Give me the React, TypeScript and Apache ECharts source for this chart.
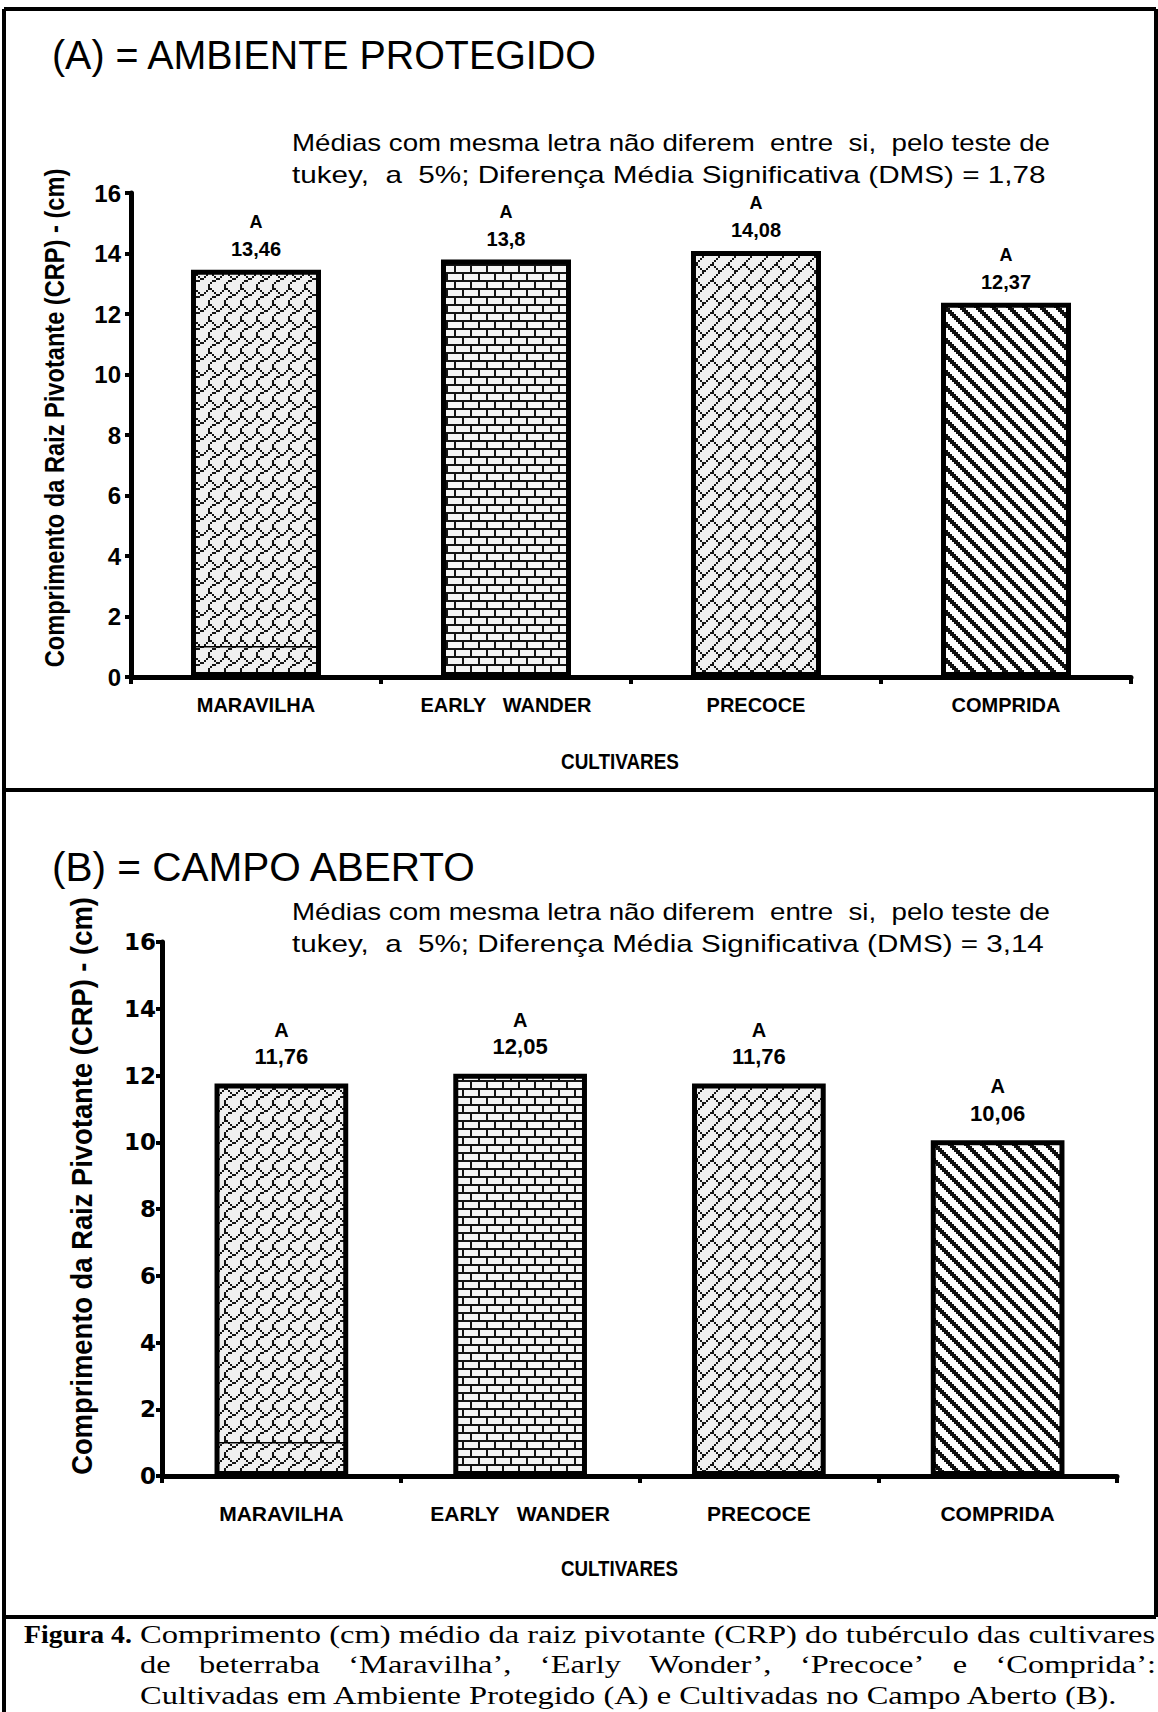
import React, { useEffect, useRef } from 'react';
import * as echarts from 'echarts';

// ---------- data ----------
const categories = ['MARAVILHA', 'EARLY   WANDER', 'PRECOCE', 'COMPRIDA'];
const valuesA = [13.46, 13.8, 14.08, 12.37];
const valuesB = [11.76, 12.05, 11.76, 10.06];
const lettersA = ['A', 'A', 'A', 'A'];
const lettersB = ['A', 'A', 'A', 'A'];
const yMin = 0;
const yMax = 16;
const yInterval = 2;
// thin line drawn inside the Maravilha bar (category index, value)
const innerLineA = [[0, 1]];
const innerLineB = [[0, 1]];

const titleA = '(A) = AMBIENTE PROTEGIDO';
const titleB = '(B) = CAMPO ABERTO';
const noteLine1 = 'Médias com mesma letra não diferem  entre  si,  pelo teste de';
const noteA2 = 'tukey,  a  5%; Diferença Média Significativa (DMS) = 1,78';
const noteB2 = 'tukey,  a  5%; Diferença Média Significativa (DMS) = 3,14';
const yName = 'Comprimento da Raiz Pivotante (CRP) - (cm)';
const xName = 'CULTIVARES';
const capLabel = 'Figura 4.';
const capLine1 = 'Comprimento (cm) médio da raiz pivotante (CRP) do tubérculo das cultivares';
const capLine2Words = ['de', 'beterraba', '‘Maravilha’,', '‘Early', 'Wonder’,', '‘Precoce’', 'e', '‘Comprida’:'];
const capLine3 = 'Cultivadas em Ambiente Protegido (A) e Cultivadas no Campo Aberto (B).';

// ---------- styles ----------
const SANS = "'Liberation Sans', Arial, Helvetica, sans-serif";
const SERIF = "'Liberation Serif', 'Times New Roman', serif";
const DEJAVU = "'DejaVu Sans', sans-serif";

const HORIZONTAL_BRICK = [0xff, 0x80, 0x80, 0x80, 0xff, 0x08, 0x08, 0x08];
const DIAGONAL_BRICK = [0x01, 0x02, 0x04, 0x08, 0x18, 0x24, 0x42, 0x81];
const SHINGLE = [0x03, 0x84, 0x48, 0x30, 0x0c, 0x02, 0x01, 0x01];
const WIDE_DOWN_DIAG = [0xc1, 0x83, 0x07, 0x0e, 0x1c, 0x38, 0x70, 0xe0];

function bitmapPattern(rows: number[], sx: number, sy: number, fg: string, bg: string, mirror: boolean) {
  const c = document.createElement('canvas');
  c.width = 8 * sx;
  c.height = 8 * sy;
  const g = c.getContext('2d')!;
  g.fillStyle = bg;
  g.fillRect(0, 0, c.width, c.height);
  g.fillStyle = fg;
  rows.forEach((r, y) => {
    for (let b = 0; b < 8; b++) {
      if (r & (1 << b)) {
        const x = mirror ? 7 - b : b;
        g.fillRect(x * sx, y * sy, sx, sy);
      }
    }
  });
  return { image: c, repeat: 'repeat', imageWidth: c.width, imageHeight: c.height } as any;
}

const measureCtx = document.createElement('canvas').getContext('2d')!;
function measure(text: string, weight: string, size: number, family: string) {
  measureCtx.font = `${weight} ${size}px ${family}`;
  return measureCtx.measureText(text).width;
}

function textStyle(text: string, weight: string, size: number, family: string, align: string) {
  return {
    text,
    fontSize: size,
    fontFamily: family,
    fontWeight: weight,
    fill: '#000',
    textAlign: align,
    align,
    textVerticalAlign: 'middle',
    verticalAlign: 'middle',
  };
}

function fitText(text: string, weight: string, size: number, family: string, x: number, y: number, width: number) {
  const s = width / measure(text, weight, size, family);
  return { type: 'text', x, y, scaleX: s, silent: true, style: textStyle(text, weight, size, family, 'left') };
}

function rotatedText(text: string, weight: string, size: number, family: string, cx: number, cy: number, length: number) {
  const s = length / measure(text, weight, size, family);
  return {
    type: 'text',
    x: cx,
    y: cy,
    rotation: Math.PI / 2,
    scaleX: s,
    silent: true,
    style: textStyle(text, weight, size, family, 'center'),
  };
}

function hLine(x1: number, x2: number, y: number, w: number) {
  return { type: 'line', silent: true, shape: { x1, y1: y, x2, y2: y }, style: { stroke: '#000', lineWidth: w } };
}
function vLine(x: number, y1: number, y2: number, w: number) {
  return { type: 'line', silent: true, shape: { x1: x, y1, x2: x, y2 }, style: { stroke: '#000', lineWidth: w } };
}

function fmtValue(v: number) {
  return String(v).replace('.', ',');
}

function buildOption() {
  const patterns = [
    bitmapPattern(SHINGLE, 2, 2, '#151515', '#f0f0f0', false),
    bitmapPattern(HORIZONTAL_BRICK, 2, 2, '#151515', '#f6f6f6', false),
    bitmapPattern(DIAGONAL_BRICK, 2, 2, '#151515', '#f0f0f0', true),
    bitmapPattern(WIDE_DOWN_DIAG, 2, 2, '#111', '#ffffff', false),
  ];

  const innerLine = (frac: number) => (params: any, api: any) => {
    const c = api.coord([api.value(0), api.value(1)]);
    const w = api.size([1, 0])[0] * frac;
    return {
      type: 'line',
      shape: { x1: c[0] - w / 2 + 2, y1: c[1], x2: c[0] + w / 2 - 2, y2: c[1] },
      style: { stroke: '#000', lineWidth: 1.5 },
    };
  };

  const barSeries = (idx: number, values: number[], letters: string[], width: string, lab: any) => ({
    type: 'bar',
    xAxisIndex: idx,
    yAxisIndex: idx,
    barWidth: width,
    data: values.map((v, i) => ({ value: v, itemStyle: { color: patterns[i] } })),
    itemStyle: { borderColor: '#000', borderWidth: 5 },
    label: {
      show: true,
      position: 'top',
      distance: lab.distance,
      color: '#000',
      formatter: (p: any) => `{a|${letters[p.dataIndex]}}\n{v|${fmtValue(p.value)}}`,
      rich: {
        a: { fontFamily: SANS, fontWeight: 'bold', fontSize: lab.aSize, lineHeight: lab.aLH, color: '#000' },
        v: { fontFamily: SANS, fontWeight: 'bold', fontSize: lab.vSize, lineHeight: lab.vLH, color: '#000' },
      },
    },
  });

  const xAxis = (idx: number, size: number, margin: number) => ({
    gridIndex: idx,
    type: 'category',
    data: categories,
    axisLine: { show: true, lineStyle: { color: '#000', width: 5 } },
    axisTick: { show: true, length: 7, lineStyle: { color: '#000', width: 4 } },
    axisLabel: { color: '#000', fontFamily: SANS, fontWeight: 'bold', fontSize: size, margin, interval: 0, hideOverlap: false },
    splitLine: { show: false },
  });

  const yAxis = (idx: number, family: string, size: number, margin: number) => ({
    gridIndex: idx,
    type: 'value',
    min: yMin,
    max: yMax,
    interval: yInterval,
    axisLine: { show: true, lineStyle: { color: '#000', width: 5 } },
    axisTick: { show: true, length: 6, lineStyle: { color: '#000', width: 4 } },
    axisLabel: { color: '#000', fontFamily: family, fontWeight: 'bold', fontSize: size, margin },
    splitLine: { show: false },
  });

  // caption line 2 justified
  const capSize = 26;
  const capScale = 980 / measure(capLine3, 'normal', capSize, SERIF);
  const wordWidths = capLine2Words.map((w) => measure(w, 'normal', capSize, SERIF) * capScale);
  const totalW = wordWidths.reduce((a, b) => a + b, 0);
  const gap = (1016 - totalW) / (capLine2Words.length - 1);
  let cx = 140;
  const line2Elems = capLine2Words.map((w, i) => {
    const el = {
      type: 'text',
      x: cx,
      y: 1664,
      scaleX: capScale,
      silent: true,
      style: textStyle(w, 'normal', capSize, SERIF, 'left'),
    };
    cx += wordWidths[i] + gap;
    return el;
  });

  const graphics: any[] = [
    // frame
    hLine(4, 1156, 9, 4),
    vLine(4, 9, 1712, 4),
    vLine(1156, 9, 1617, 4),
    hLine(4, 1156, 790, 4),
    hLine(4, 1156, 1617, 4),
    // panel A texts
    fitText(titleA, 'normal', 40, SANS, 52, 55, 546),
    fitText(noteLine1, 'normal', 24, SANS, 292, 143, 758),
    fitText(noteA2, 'normal', 24, SANS, 292, 175, 754),
    rotatedText(yName, 'bold', 27, SANS, 54, 418, 499),
    fitText(xName, 'bold', 22, SANS, 561, 761, 118),
    // panel B texts
    fitText(titleB, 'normal', 40, SANS, 52, 868, 425),
    fitText(noteLine1, 'normal', 24, SANS, 292, 912, 758),
    fitText(noteB2, 'normal', 24, SANS, 292, 944, 752),
    rotatedText(yName, 'bold', 29, SANS, 82, 1186, 578),
    fitText(xName, 'bold', 22, SANS, 561, 1568, 117),
    // caption
    fitText(capLabel, 'bold', capSize, SERIF, 24, 1634, 108),
    fitText(capLine1, 'normal', capSize, SERIF, 140, 1634, 1016),
    ...line2Elems,
    fitText(capLine3, 'normal', capSize, SERIF, 140, 1695, 980),
  ];

  return {
    animation: false,
    backgroundColor: '#ffffff',
    textStyle: { fontFamily: SANS },
    grid: [
      { left: 131, top: 193, width: 1000, height: 484, containLabel: false, outerBoundsMode: 'none' },
      { left: 162, top: 942, width: 955, height: 534, containLabel: false, outerBoundsMode: 'none' },
    ],
    xAxis: [xAxis(0, 20, 18), xAxis(1, 21, 27)],
    yAxis: [yAxis(0, SANS, 24, 10), yAxis(1, DEJAVU, 23, 6)],
    series: [
      barSeries(0, valuesA, lettersA, '52%', { distance: 10, aSize: 18, aLH: 32, vSize: 20, vLH: 22 }),
      barSeries(1, valuesB, lettersB, '56%', { distance: 15, aSize: 20, aLH: 30, vSize: 22, vLH: 24 }),
      { type: 'custom', xAxisIndex: 0, yAxisIndex: 0, z: 5, silent: true, data: innerLineA, renderItem: innerLine(0.52) },
      { type: 'custom', xAxisIndex: 1, yAxisIndex: 1, z: 5, silent: true, data: innerLineB, renderItem: innerLine(0.56) },
    ],
    graphic: { elements: graphics },
  };
}

export default function App() {
  const ref = useRef<HTMLDivElement>(null);
  useEffect(() => {
    const chart = echarts.init(ref.current!, null, { renderer: 'svg', width: 1158, height: 1712 });
    chart.setOption(buildOption() as any);
    return () => chart.dispose();
  }, []);
  return (
    <div
      ref={ref}
      style={{ position: 'absolute', left: 0, top: 0, width: 1158, height: 1712, background: '#fff' }}
    />
  );
}
